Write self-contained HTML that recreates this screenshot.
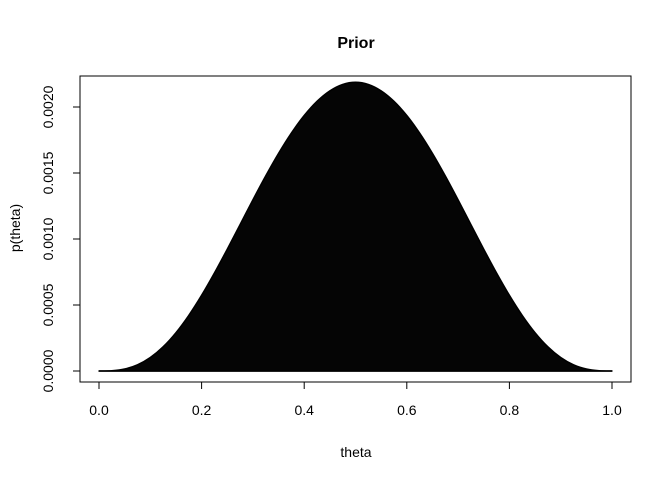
<!DOCTYPE html>
<html><head><meta charset="utf-8"><style>
body{margin:0;background:#fff}
svg text{font-family:"Liberation Sans",Arial,sans-serif;fill:#000}
</style></head><body>
<svg width="672" height="480" viewBox="0 0 672 480">
<rect width="672" height="480" fill="#fff"/>
<text x="356" y="48" font-size="16" font-weight="bold" text-anchor="middle">Prior</text>
<rect x="80" y="76" width="551" height="306" fill="none" stroke="#000" stroke-width="1"/>
<g id="marks"></g>
<g id="axes"></g>
<text x="356" y="457" font-size="14" text-anchor="middle">theta</text>
<text x="20" y="228" font-size="14" text-anchor="middle" transform="rotate(-90 20 228)">p(theta)</text>
</svg>
<script>
const thetaVals=[0,0.025,0.05,0.075,0.1,0.125,0.15,0.175,0.2,0.225,0.25,0.275,0.3,0.325,0.35,0.375,0.4,0.425,0.45,0.475,0.5,0.525,0.55,0.575,0.6,0.625,0.65,0.675,0.7,0.725,0.75,0.775,0.8,0.825,0.85,0.875,0.9,0.925,0.95,0.975,1];
const priorVals=[0,0.00000203,0.0000150,0.0000467,0.0001021,0.0001832,0.0002902,0.0004213,0.0005734,0.0007423,0.0009229,0.0011095,0.0012965,0.001478,0.0016485,0.0018025,0.0019354,0.0020432,0.0021225,0.0021711,0.0021875,0.0021711,0.0021225,0.0020432,0.0019354,0.0018025,0.0016485,0.001478,0.0012965,0.0011095,0.0009229,0.0007423,0.0005734,0.0004213,0.0002902,0.0001832,0.0001021,0.0000467,0.0000150,0.00000203,0];
const xTicks=[0,0.2,0.4,0.6,0.8,1.0];
const xTickLabels=["0.0","0.2","0.4","0.6","0.8","1.0"];
const yTicks=[0,0.0005,0.001,0.0015,0.002];
const yTickLabels=["0.0000","0.0005","0.0010","0.0015","0.0020"];
const NS="http://www.w3.org/2000/svg";
const xS=v=>99+v*513;
const yS=v=>371-v*132000;
const marks=document.getElementById('marks');
const pts=thetaVals.map((t,i)=>[xS(t),yS(priorVals[i])]);
let d="M"+pts[0][0]+","+pts[0][1];
for(let i=0;i<pts.length-1;i++){
  const p0=pts[Math.max(0,i-1)],p1=pts[i],p2=pts[i+1],p3=pts[Math.min(pts.length-1,i+2)];
  const c1=[p1[0]+(p2[0]-p0[0])/6,p1[1]+(p2[1]-p0[1])/6];
  const c2=[p2[0]-(p3[0]-p1[0])/6,p2[1]-(p3[1]-p1[1])/6];
  d+=" C"+c1[0]+","+c1[1]+" "+c2[0]+","+c2[1]+" "+p2[0]+","+p2[1];
}
d+=" Z";
const p=document.createElementNS(NS,'path');
p.setAttribute('d',d);p.setAttribute('fill','#050505');p.setAttribute('stroke','#000');p.setAttribute('stroke-width','1.5');p.setAttribute('stroke-linejoin','round');


marks.appendChild(p);
const base=document.createElementNS(NS,'line');
base.setAttribute('x1',xS(0));base.setAttribute('x2',xS(1));base.setAttribute('y1',yS(0));base.setAttribute('y2',yS(0));base.setAttribute('stroke','#000');base.setAttribute('stroke-width','1.5');


marks.appendChild(base);
const ax=document.getElementById('axes');
function ln(x1,y1,x2,y2,name){const l=document.createElementNS(NS,'line');l.setAttribute('x1',x1);l.setAttribute('y1',y1);l.setAttribute('x2',x2);l.setAttribute('y2',y2);l.setAttribute('stroke','#000');


ax.appendChild(l);}
ln(xS(0),382,xS(1),382,'x-axis-line');
xTicks.forEach((t,i)=>{ln(xS(t),382,xS(t),389,'x-tick');
const tx=document.createElementNS(NS,'text');tx.setAttribute('x',xS(t));tx.setAttribute('y',415);tx.setAttribute('font-size','14');tx.setAttribute('text-anchor','middle');tx.textContent=xTickLabels[i];


ax.appendChild(tx);});
ln(80,yS(0),80,yS(0.002),'y-axis-line');
yTicks.forEach((t,i)=>{ln(73,yS(t),80,yS(t),'y-tick');
const tx=document.createElementNS(NS,'text');const y=yS(t);tx.setAttribute('x',53);tx.setAttribute('y',y);tx.setAttribute('font-size','14');tx.setAttribute('text-anchor','middle');tx.setAttribute('transform','rotate(-90 53 '+y+')');tx.textContent=yTickLabels[i];


ax.appendChild(tx);});
</script>
</body></html>
